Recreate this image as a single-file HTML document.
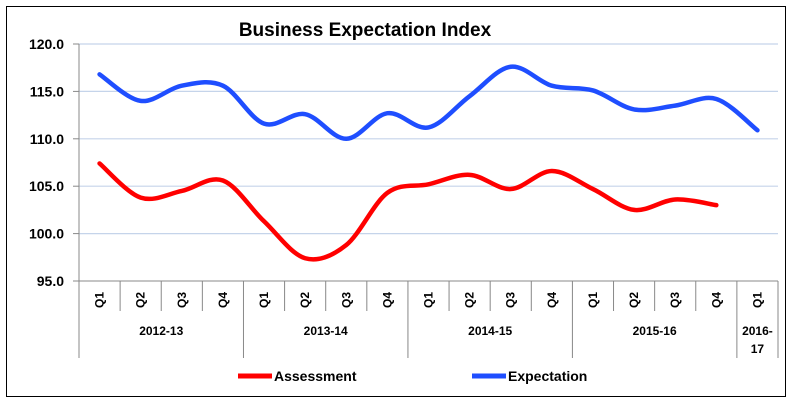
<!DOCTYPE html>
<html><head><meta charset="utf-8"><style>
body{margin:0;background:#fff;width:793px;height:407px;overflow:hidden}
svg text{font-family:"Liberation Sans",sans-serif;font-weight:bold;fill:#000}
</style></head><body>
<svg id="s" width="793" height="407" xmlns="http://www.w3.org/2000/svg">
<rect x="6.5" y="6.5" width="779" height="390" fill="#fff" stroke="#000" stroke-width="1"/>
<text x="365" y="36" font-size="19" text-anchor="middle">Business Expectation Index</text>
<g id="g"></g>
</svg>
<script>
const g=document.getElementById('g');
const L=79,R=778,T=44,B=281,n=17,cw=(R-L)/n;
const Y=v=>T+(120-v)*(B-T)/25;
let h='';
for(let i=0;i<6;i++){const v=120-5*i,y=Y(v);
 if(i<5)h+=`<line x1="${L}" x2="${R}" y1="${y}" y2="${y}" stroke="#c5d4ea" stroke-width="1.2"/>`;
 h+=`<line x1="${L-6}" x2="${L}" y1="${y}" y2="${y}" stroke="#888"/>`;
 h+=`<text x="64" y="${y+5}" font-size="14" text-anchor="end">${v.toFixed(1)}</text>`;}
h+=`<line x1="${L}" x2="${L}" y1="${T}" y2="${358}" stroke="#888"/>`;
h+=`<line x1="${L}" x2="${R}" y1="${B}" y2="${B}" stroke="#888"/>`;
const q=['Q1','Q2','Q3','Q4'];
for(let i=0;i<=n;i++){const x=L+cw*i;
 const big=(i%4==0)||i==n;
 if(i>0)h+=`<line x1="${x}" x2="${x}" y1="${B}" y2="${big?358:311}" stroke="#888"/>`;
 if(i<n){const cx=x+cw/2;h+=`<text font-size="12" transform="translate(${cx+4},300) rotate(-90)" text-anchor="middle">${q[i%4]}</text>`;}}
const yrs=['2012-13','2013-14','2014-15','2015-16'];
yrs.forEach((t,k)=>{h+=`<text x="${L+cw*(4*k+2)}" y="335" font-size="12" text-anchor="middle">${t}</text>`});
h+=`<text x="${L+cw*16.5}" y="335" font-size="12" text-anchor="middle">2016-</text><text x="${L+cw*16.5}" y="353" font-size="12" text-anchor="middle">17</text>`;
function path(d){const p=d.map((v,i)=>[L+cw*(i+.5),Y(v)]);let s=`M${p[0][0]},${p[0][1]}`;
 for(let i=0;i<p.length-1;i++){const p0=p[i-1]||p[i],p1=p[i],p2=p[i+1],p3=p[i+2]||p2;
 const c1=[p1[0]+(p2[0]-p0[0])/6,p1[1]+(p2[1]-p0[1])/6],c2=[p2[0]-(p3[0]-p1[0])/6,p2[1]-(p3[1]-p1[1])/6];
 s+=`C${c1},${c2},${p2}`;}return s;}
const E=[116.8,114.0,115.6,115.6,111.6,112.6,110.0,112.7,111.2,114.5,117.6,115.6,115.1,113.1,113.5,114.2,110.9];
const A=[107.4,103.8,104.5,105.6,101.3,97.4,98.8,104.3,105.2,106.2,104.7,106.6,104.7,102.5,103.6,103.0];
h+=`<path d="${path(A)}" fill="none" stroke="#ff0000" stroke-width="4.5" stroke-linejoin="round" stroke-linecap="round"/>`;
h+=`<path d="${path(E)}" fill="none" stroke="#1f4eff" stroke-width="4.5" stroke-linejoin="round" stroke-linecap="round"/>`;
h+=`<line x1="238" x2="272" y1="376" y2="376" stroke="#ff0000" stroke-width="5"/><text x="274" y="381" font-size="14">Assessment</text>`;
h+=`<line x1="472" x2="506" y1="376" y2="376" stroke="#1f4eff" stroke-width="5"/><text x="508" y="381" font-size="14">Expectation</text>`;
g.innerHTML=h;
</script>
</body></html>
